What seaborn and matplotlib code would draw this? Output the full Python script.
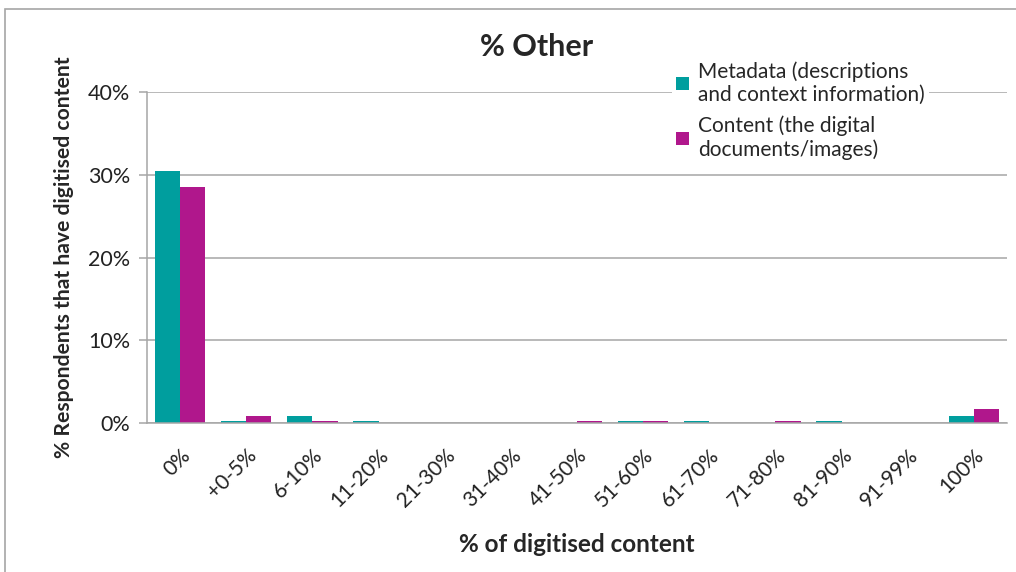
import pandas as pd
import matplotlib.pyplot as plt
import seaborn as sns
from matplotlib.patches import Patch, Rectangle

# Data
categories = ['0%', '+0-5%', '6-10%', '11-20%', '21-30%', '31-40%', '41-50%',
              '51-60%', '61-70%', '71-80%', '81-90%', '91-99%', '100%']
metadata = [30.4, 0.2, 0.85, 0.2, 0.0, 0.0, 0.0, 0.2, 0.2, 0.0, 0.2, 0.0, 0.85]
content = [28.5, 0.85, 0.2, 0.0, 0.0, 0.0, 0.2, 0.2, 0.0, 0.2, 0.0, 0.0, 1.7]
series = ['Metadata (descriptions\nand context information)',
          'Content (the digital\ndocuments/images)']
colors = ['#009E9E', '#B0178C']

df = pd.DataFrame({
    'category': categories * 2,
    'series': [series[0]] * len(categories) + [series[1]] * len(categories),
    'value': metadata + content,
})

sns.set_theme(style='white')
plt.rcParams['font.family'] = ['Lato', 'DejaVu Sans']

fig = plt.figure(figsize=(10.16, 5.72), dpi=100)
ax = fig.add_axes([147 / 1016, 1 - 423 / 572, 860 / 1016, 331 / 572])

sns.barplot(data=df, x='category', y='value', hue='series', order=categories,
            hue_order=series, palette=colors, width=0.76, saturation=1,
            edgecolor='none', ax=ax, legend=False)

ax.set_ylim(0, 40)
ax.set_xlim(-0.5, len(categories) - 0.5)
ax.set_yticks([0, 10, 20, 30, 40])
ax.set_yticklabels([f'{v}%' for v in [0, 10, 20, 30, 40]], fontsize=15.5, color='#222222')
ax.yaxis.grid(True, color='#A6A6A6', linewidth=1.1)
ax.set_axisbelow(True)

ax.set_xticks(range(len(categories)))
ax.set_xticklabels(categories, rotation=45, ha='right', rotation_mode='anchor',
                   fontsize=15, color='#222222')
ax.tick_params(axis='x', which='major', length=0, pad=16)
ax.set_xticks([i - 0.5 for i in range(len(categories) + 1)], minor=True)
ax.tick_params(axis='x', which='minor', length=6, color='#A6A6A6', width=1.1, direction='out')
ax.tick_params(axis='y', length=6, color='#A6A6A6', width=1.1, direction='out', left=True, pad=6)

for side in ['top', 'right']:
    ax.spines[side].set_visible(False)
for side in ['left', 'bottom']:
    ax.spines[side].set_color('#A6A6A6')
    ax.spines[side].set_linewidth(1.1)

ax.set_xlabel('% of digitised content', fontsize=17.5, fontweight='bold', labelpad=16)
ax.set_ylabel('% Respondents that have digitised content', fontsize=15.2, fontweight='bold', labelpad=10)

fig.text(537 / 1016, 1 - 47 / 572, '% Other', fontsize=22, fontweight='bold',
         ha='center', va='center')

handles = [Patch(facecolor=c, edgecolor='none') for c in colors]
fig.legend(handles, series, loc='upper left', bbox_to_anchor=(672 / 1016, 1 - 57 / 572),
           frameon=True, facecolor='white', edgecolor='none', framealpha=1,
           fontsize=15, handlelength=0.6, handleheight=0.6, handletextpad=0.45,
           labelspacing=0.5, borderpad=0.2, borderaxespad=0)

# outer chart border
fig.patches.append(Rectangle((5 / 1016, -0.1), 1.2, 1 - 9 / 572 + 0.1, transform=fig.transFigure,
                             fill=False, edgecolor='#A6A6A6', linewidth=1.2))

fig.savefig('out.png', dpi=100)
